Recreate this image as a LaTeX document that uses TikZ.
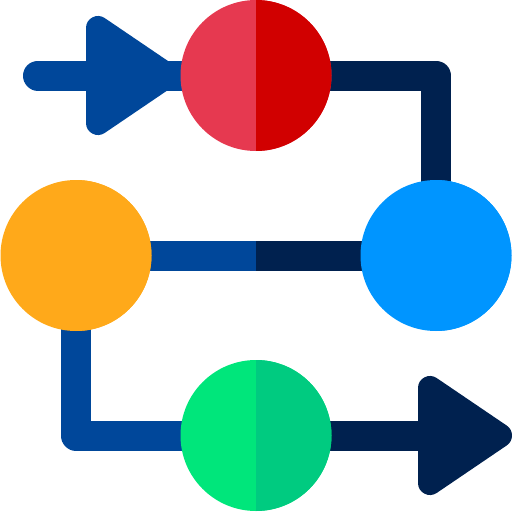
\documentclass[tikz,border=0pt]{standalone}
\usetikzlibrary{backgrounds}
\definecolor{cblue}{HTML}{00479A}
\definecolor{cnavy}{HTML}{00214F}
\definecolor{redL}{HTML}{E63950}
\definecolor{redR}{HTML}{D10000}
\definecolor{cyanB}{HTML}{0095FF}
\definecolor{orangeC}{HTML}{FFA91A}
\definecolor{greenL}{HTML}{00E67B}
\definecolor{greenR}{HTML}{00CB80}
\tikzset{
  dot/.style 2 args={circle, inner sep=0pt, outer sep=0pt, minimum size=151pt, fill=#1,
    path picture={\fill[#2] (path picture bounding box.north) rectangle (path picture bounding box.south east);}},
  conn/.style={line width=30pt, line join=round, draw=#1},
  tri/.style={fill=#1, draw=#1, line width=24pt, line join=round}
}
\begin{document}
\begin{tikzpicture}[x=1pt,y=-1pt]
\useasboundingbox (0,0) rectangle (512,512);
\node[dot={redL}{redR}] (r) at (256,75.5) {};
\node[dot={cyanB}{cyanB}] (b) at (436,255.5) {};
\node[dot={orangeC}{orangeC}] (o) at (76,255.5) {};
\node[dot={greenL}{greenR}] (g) at (256,435.5) {};
\coordinate (start) at (38,75.5);
\coordinate (mid) at (256,255.5);
\coordinate (endp) at (470,435.5);
\begin{pgfonlayer}{background}
\draw[conn=cblue, line cap=round] (start) -- (r.center);
\fill[tri=cblue] (98,28) -- (98,123) -- (168,75.5) -- cycle;
\draw[conn=cnavy] (r.center) -| (b.center);
\draw[conn=cblue] (o.center) -- (mid);
\draw[conn=cnavy] (mid) -- (b.center);
\draw[conn=cblue] (o.center) |- (g.center);
\draw[conn=cnavy] (g.center) -- (endp);
\fill[tri=cnavy] (430,388) -- (430,483) -- (500,435.5) -- cycle;
\end{pgfonlayer}
\end{tikzpicture}
\end{document}
